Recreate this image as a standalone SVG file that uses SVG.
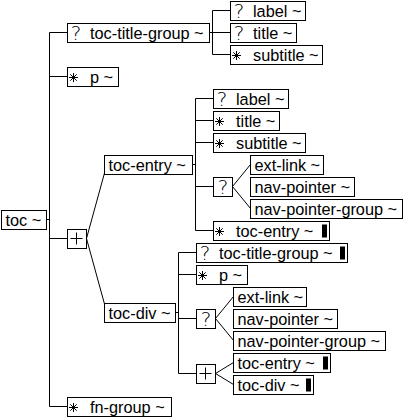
<svg xmlns="http://www.w3.org/2000/svg" xmlns:xlink="http://www.w3.org/1999/xlink" width="410" height="418" viewBox="0 0 410 418">
<style>
.box{fill:#fff;stroke:#000;stroke-width:1}
.t{font-family:"Liberation Sans",Arial,sans-serif;font-size:16.3px;fill:#000}
.q{font-family:"DejaVu Sans","Liberation Sans",sans-serif;font-weight:200;font-size:20px;fill:#000;text-anchor:middle}
.bar{fill:#000;stroke:none}
.c{fill:none;stroke:#000;stroke-width:1}
.ic{fill:none;stroke:#000;stroke-width:1}
</style>
<defs>
<g id="ast" class="ic"><path d="M-4.5 0H4.5M0 -4.5V4.5M-3.2 -3.2L3.2 3.2M-3.2 3.2L3.2 -3.2"/></g>
<g id="plus" class="ic"><path d="M-6 0H6M0 -6V6"/></g>
</defs>
<rect width="410" height="418" fill="#fff"/>
<g id="connectors" class="c">
<path d="M49.5 32.5V406.5M46.5 219.5H49.5M49.5 32.5H67.5M49.5 76.5H67.5M49.5 238.5H67.5M49.5 406.5H67.5"/>
<path d="M209.5 32.5H212.5M212.5 10.5V54.5M212.5 10.5H230.5M212.5 32.5H230.5M212.5 54.5H230.5"/>
<path d="M86.5 238.5L104.5 173M86.5 238.5L104.5 304"/>
<path d="M192.5 164.5H195.5M195.5 98.5V230.5M195.5 98.5H213.5M195.5 120.5H213.5M195.5 142.5H213.5M195.5 186.5H213.5M195.5 230.5H213.5"/>
<path d="M232.5 186.5L250.5 164.5M232.5 186.5L250.5 208.5"/>
<path d="M175.5 312.5H178.5M178.5 252.5V373.5M178.5 252.5H196.5M178.5 274.5H196.5M178.5 318.5H196.5M178.5 373.5H196.5"/>
<path d="M215.5 318.5L233.5 296.5M215.5 318.5L233.5 340.5"/>
<path d="M215.5 373.5L233.5 362.5M215.5 373.5L233.5 384.5"/>
</g>
<g id="toc"><rect class="box" x="1.5" y="210.5" width="45" height="19"/><text class="t" x="5.5" y="226">toc ~</text></g>
<g id="toc-title-group"><rect class="box" x="67.5" y="23.5" width="142" height="19"/><text class="q" x="76" y="40">?</text><text class="t" x="90" y="39">toc-title-group ~</text></g>
<g id="ttg-label"><rect class="box" x="230.5" y="1.5" width="75" height="19"/><text class="q" x="239" y="18">?</text><text class="t" x="253" y="17">label ~</text></g>
<g id="ttg-title"><rect class="box" x="230.5" y="23.5" width="66" height="19"/><text class="q" x="239" y="40">?</text><text class="t" x="253" y="39">title ~</text></g>
<g id="ttg-subtitle"><rect class="box" x="230.5" y="45.5" width="92" height="19"/><use xlink:href="#ast" x="236.5" y="55.5"/><text class="t" x="253" y="61">subtitle ~</text></g>
<g id="p"><rect class="box" x="67.5" y="67.5" width="51" height="19"/><use xlink:href="#ast" x="73.5" y="77.5"/><text class="t" x="90" y="83">p ~</text></g>
<g id="toc-seq"><rect class="box" x="67.5" y="229.5" width="19" height="19"/><use xlink:href="#plus" x="76.5" y="238.5"/></g>
<g id="toc-entry"><rect class="box" x="104.5" y="155.5" width="88" height="19"/><text class="t" x="108.5" y="171">toc-entry ~</text></g>
<g id="te-label"><rect class="box" x="213.5" y="89.5" width="75" height="19"/><text class="q" x="222" y="106">?</text><text class="t" x="236" y="105">label ~</text></g>
<g id="te-title"><rect class="box" x="213.5" y="111.5" width="66" height="19"/><use xlink:href="#ast" x="219.5" y="121.5"/><text class="t" x="236" y="127">title ~</text></g>
<g id="te-subtitle"><rect class="box" x="213.5" y="133.5" width="92" height="19"/><use xlink:href="#ast" x="219.5" y="143.5"/><text class="t" x="236" y="149">subtitle ~</text></g>
<g id="te-choice"><rect class="box" x="213.5" y="177.5" width="19" height="19"/><text class="q" x="223" y="194.3">?</text></g>
<g id="te-ext-link"><rect class="box" x="250.5" y="155.5" width="73" height="19"/><text class="t" x="254.5" y="171">ext-link ~</text></g>
<g id="te-nav-pointer"><rect class="box" x="250.5" y="177.5" width="104" height="19"/><text class="t" x="254.5" y="193">nav-pointer ~</text></g>
<g id="te-nav-pointer-group"><rect class="box" x="250.5" y="199.5" width="152" height="19"/><text class="t" x="254.5" y="215">nav-pointer-group ~</text></g>
<g id="te-toc-entry"><rect class="box" x="213.5" y="221.5" width="116" height="19"/><use xlink:href="#ast" x="219.5" y="231.5"/><text class="t" x="236" y="237">toc-entry ~</text><rect class="bar" x="322" y="224.5" width="5" height="13"/></g>
<g id="toc-div"><rect class="box" x="104.5" y="303.5" width="71" height="19"/><text class="t" x="108.5" y="319">toc-div ~</text></g>
<g id="td-toc-title-group"><rect class="box" x="196.5" y="243.5" width="151" height="19"/><text class="q" x="205" y="260">?</text><text class="t" x="219" y="259">toc-title-group ~</text><rect class="bar" x="340" y="246.5" width="5" height="13"/></g>
<g id="td-p"><rect class="box" x="196.5" y="265.5" width="51" height="19"/><use xlink:href="#ast" x="202.5" y="275.5"/><text class="t" x="219" y="281">p ~</text></g>
<g id="td-choice"><rect class="box" x="196.5" y="309.5" width="19" height="19"/><text class="q" x="206" y="326.3">?</text></g>
<g id="td-ext-link"><rect class="box" x="233.5" y="287.5" width="73" height="19"/><text class="t" x="237.5" y="303">ext-link ~</text></g>
<g id="td-nav-pointer"><rect class="box" x="233.5" y="309.5" width="104" height="19"/><text class="t" x="237.5" y="325">nav-pointer ~</text></g>
<g id="td-nav-pointer-group"><rect class="box" x="233.5" y="331.5" width="152" height="19"/><text class="t" x="237.5" y="347">nav-pointer-group ~</text></g>
<g id="td-seq"><rect class="box" x="196.5" y="364.5" width="19" height="19"/><use xlink:href="#plus" x="205.5" y="373.5"/></g>
<g id="td-toc-entry"><rect class="box" x="233.5" y="353.5" width="97" height="19"/><text class="t" x="237.5" y="369">toc-entry ~</text><rect class="bar" x="323" y="356.5" width="5" height="13"/></g>
<g id="td-toc-div"><rect class="box" x="233.5" y="375.5" width="80" height="19"/><text class="t" x="237.5" y="391">toc-div ~</text><rect class="bar" x="306" y="378.5" width="5" height="13"/></g>
<g id="fn-group"><rect class="box" x="67.5" y="397.5" width="104" height="19"/><use xlink:href="#ast" x="73.5" y="407.5"/><text class="t" x="90" y="413">fn-group ~</text></g>
</svg>
